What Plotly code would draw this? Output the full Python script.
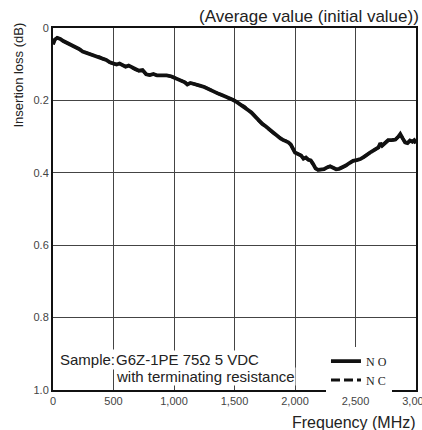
import plotly.graph_objects as go

freq_mhz = [0, 15, 35, 60, 85, 110, 140, 165, 190, 215, 245, 270, 300, 330, 355, 385, 410, 440, 470, 500,
            525, 550, 575, 600, 625, 650, 680, 710, 740, 770, 800, 830, 860, 900, 940, 980, 1000, 1030, 1060,
            1090, 1110, 1135, 1160, 1190, 1220, 1250, 1280, 1310, 1340, 1370, 1400, 1430, 1460, 1490, 1520,
            1550, 1580, 1610, 1640, 1670, 1700, 1730, 1760, 1790, 1820, 1850, 1880, 1900, 1920, 1945, 1965,
            1985, 2000, 2025, 2050, 2070, 2090, 2110, 2130, 2150, 2170, 2190, 2215, 2240, 2265, 2290, 2315,
            2340, 2365, 2390, 2420, 2450, 2480, 2510, 2540, 2570, 2600, 2630, 2660, 2690, 2705, 2720, 2740,
            2770, 2800, 2830, 2855, 2870, 2890, 2910, 2930, 2950, 2970, 2985, 3000]
loss_no = [0.045, 0.032, 0.027, 0.030, 0.036, 0.040, 0.046, 0.050, 0.055, 0.058, 0.065, 0.068, 0.072, 0.074,
           0.078, 0.080, 0.085, 0.088, 0.095, 0.099, 0.101, 0.098, 0.103, 0.107, 0.104, 0.109, 0.115, 0.118,
           0.116, 0.128, 0.130, 0.127, 0.131, 0.131, 0.131, 0.134, 0.137, 0.142, 0.146, 0.150, 0.156, 0.152,
           0.154, 0.158, 0.160, 0.163, 0.168, 0.174, 0.178, 0.182, 0.186, 0.190, 0.194, 0.199, 0.205, 0.212,
           0.216, 0.225, 0.233, 0.244, 0.256, 0.265, 0.272, 0.281, 0.290, 0.297, 0.305, 0.309, 0.311, 0.316,
           0.322, 0.334, 0.344, 0.348, 0.352, 0.361, 0.358, 0.364, 0.366, 0.376, 0.388, 0.392, 0.391, 0.390,
           0.385, 0.382, 0.386, 0.390, 0.389, 0.386, 0.380, 0.373, 0.367, 0.365, 0.362, 0.356, 0.348, 0.342,
           0.336, 0.330, 0.318, 0.325, 0.319, 0.310, 0.310, 0.308, 0.300, 0.293, 0.305, 0.316, 0.318, 0.311,
           0.314, 0.310, 0.318]
loss_nc = list(loss_no)

x_ticks = [0, 500, 1000, 1500, 2000, 2500, 3000]
x_tick_text = ["0", "500", "1,000", "1,500", "2,000", "2,500", "3,000"]
y_ticks = [0, 0.2, 0.4, 0.6, 0.8, 1.0]
y_tick_text = ["0", "0.2", "0.4", "0.6", "0.8", "1.0"]

fig = go.Figure()
fig.add_trace(go.Scatter(x=freq_mhz, y=loss_nc, mode="lines", name="N C",
                         line=dict(color="#111111", width=3, dash="9px,4px")))
fig.add_trace(go.Scatter(x=freq_mhz, y=loss_no, mode="lines", name="N O",
                         line=dict(color="#111111", width=3.8)))

txt_font = dict(family="Liberation Sans, Arial", size=15, color="#222")
fig.add_annotation(x=510, y=0.962, xref="x", yref="y", text="with terminating resistance", showarrow=False,
                   xanchor="left", yanchor="middle", font=txt_font, bgcolor="white", borderpad=0)
fig.add_annotation(x=40, y=0.915, xref="x", yref="y", text="Sample:", showarrow=False,
                   xanchor="left", yanchor="middle", font=txt_font, bgcolor="white", borderpad=1)
fig.add_annotation(x=510, y=0.915, xref="x", yref="y", text="G6Z-1PE 75Ω 5 VDC", showarrow=False,
                   xanchor="left", yanchor="middle", font=txt_font, bgcolor="white", borderpad=0)

fig.add_annotation(x=1, y=1, xref="paper", yref="paper", xshift=5, yshift=0,
                   text="(Average value (initial value))",
                   showarrow=False, xanchor="right", yanchor="bottom", font=dict(size=17, color="#222"))
fig.add_annotation(x=1, y=0, xref="paper", yref="paper", xshift=2, yshift=-22, text="Frequency (MHz)",
                   showarrow=False, xanchor="right", yanchor="top", font=dict(size=16, color="#222"))
fig.add_annotation(x=0, y=1, xref="paper", yref="paper", xshift=-35, yshift=7, text="Insertion loss (dB)",
                   textangle=-90, showarrow=False, xanchor="center", yanchor="top",
                   font=dict(size=13, color="#222"))

fig.update_xaxes(range=[0, 3000], tickvals=x_ticks, ticktext=x_tick_text, showgrid=True,
                 gridcolor="#444444", gridwidth=1, showline=True, linecolor="#111", linewidth=2,
                 mirror=True, ticks="", zeroline=False, ticklabeloverflow="allow", automargin=False,
                 tickfont=dict(family="Liberation Sans, Arial", size=11, color="#444"))
fig.update_yaxes(range=[1.0, 0], tickvals=y_ticks, ticktext=y_tick_text, showgrid=True,
                 gridcolor="#444444", gridwidth=1, showline=True, linecolor="#111", linewidth=2,
                 mirror=True, ticks="", zeroline=False, automargin=False,
                 tickfont=dict(family="Liberation Sans, Arial", size=11, color="#444"))

fig.update_layout(
    width=422, height=430,
    margin=dict(l=53, r=6, t=28, b=40, autoexpand=False),
    paper_bgcolor="white", plot_bgcolor="white",
    font=dict(family="Liberation Sans, Arial, sans-serif"),
    showlegend=True,
    legend=dict(x=0.752, y=0.12, xanchor="left", yanchor="top", bgcolor="white",
                font=dict(family="Liberation Serif, Times New Roman, serif", size=12, color="#222"),
                traceorder="reversed", tracegroupgap=0),
)

fig.write_html("out.html", config={"displayModeBar": False},
               post_script="document.body.style.margin='0';document.body.style.padding='0';")
